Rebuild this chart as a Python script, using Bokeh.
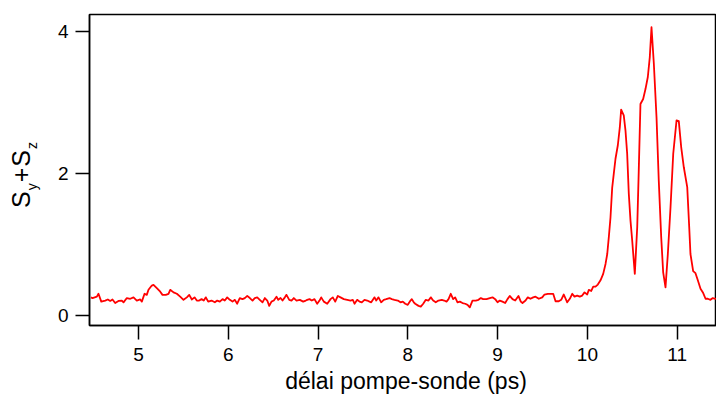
from bokeh.plotting import figure
from bokeh.models import Range1d, FixedTicker, Div
from bokeh.layouts import row, column
from bokeh.embed import file_html
from bokeh.resources import INLINE

# ---- data ----
delay_ps = [
    4.47, 4.488, 4.536, 4.554, 4.585, 4.629, 4.658, 4.685, 4.710, 4.740,
    4.777, 4.814, 4.833, 4.870, 4.908, 4.944, 4.981, 5.019, 5.037, 5.067,
    5.092, 5.111, 5.148, 5.167, 5.204, 5.242, 5.267, 5.304, 5.334, 5.353,
    5.390, 5.427, 5.464, 5.501, 5.538, 5.565, 5.594, 5.624,
    5.649, 5.676, 5.702, 5.727, 5.750, 5.776, 5.813, 5.850, 5.877, 5.906,
    5.936, 5.961, 5.988, 6.017, 6.047, 6.073, 6.099, 6.128, 6.158, 6.184,
    6.211, 6.240, 6.270, 6.295, 6.322, 6.351, 6.381, 6.407, 6.434, 6.456,
    6.481, 6.507, 6.537, 6.556, 6.582, 6.604, 6.630, 6.648, 6.679, 6.704,
    6.730, 6.760, 6.797, 6.834, 6.863,
    6.879, 6.905, 6.930, 6.960, 6.990, 7.016, 7.035, 7.064, 7.102, 7.139,
    7.164, 7.191, 7.220, 7.250, 7.287, 7.325, 7.361, 7.387, 7.406, 7.436,
    7.462, 7.487, 7.517, 7.547, 7.573, 7.592, 7.629, 7.648, 7.673, 7.703,
    7.732, 7.759, 7.796, 7.821, 7.851, 7.888, 7.918, 7.944, 7.971, 7.999,
    8.030, 8.044, 8.066,
    8.082, 8.119, 8.144, 8.171, 8.200, 8.230, 8.256, 8.282, 8.311, 8.341,
    8.378, 8.405, 8.431, 8.453, 8.478, 8.505, 8.527, 8.553, 8.579, 8.609,
    8.639, 8.665, 8.690, 8.720, 8.757, 8.787, 8.813, 8.839, 8.876, 8.913,
    8.943, 8.973, 8.999, 9.024, 9.054, 9.084, 9.110, 9.135, 9.166, 9.196,
    9.232, 9.258, 9.277,
    9.311, 9.336, 9.366, 9.396, 9.422, 9.459, 9.497, 9.522, 9.559, 9.589,
    9.619, 9.645, 9.681, 9.708, 9.737, 9.775, 9.804, 9.831, 9.856, 9.886,
    9.915, 9.942, 9.968, 9.998, 10.016,
    10.043, 10.065, 10.090, 10.116, 10.146, 10.176, 10.202, 10.221, 10.238, 10.257,
    10.276, 10.294, 10.313, 10.339, 10.361, 10.376, 10.405, 10.424, 10.443, 10.461,
    10.480, 10.499, 10.528, 10.555, 10.572, 10.591, 10.621, 10.647, 10.673, 10.695,
    10.714, 10.740, 10.770, 10.795, 10.822, 10.844, 10.870, 10.896, 10.926, 10.956,
    10.993, 11.018, 11.045, 11.074, 11.112, 11.134, 11.148, 11.178, 11.204, 11.230,
    11.260, 11.290, 11.316, 11.341, 11.371, 11.397, 11.427, 11.45,
]
signal = [
    0.26, 0.25, 0.27, 0.31, 0.20, 0.215, 0.23, 0.21, 0.23, 0.18,
    0.21, 0.215, 0.19, 0.25, 0.24, 0.26, 0.215, 0.23, 0.20, 0.31,
    0.295, 0.366, 0.426, 0.436, 0.39, 0.34, 0.295, 0.295, 0.31, 0.366,
    0.33, 0.31, 0.27, 0.225, 0.26, 0.295, 0.23, 0.26,
    0.215, 0.215, 0.235, 0.215, 0.26, 0.20, 0.215, 0.19, 0.215, 0.20,
    0.235, 0.215, 0.26, 0.225, 0.20, 0.225, 0.17, 0.25, 0.235, 0.25,
    0.28, 0.25, 0.215, 0.25, 0.26, 0.225, 0.19, 0.25, 0.215, 0.14,
    0.20, 0.215, 0.27, 0.225, 0.25, 0.215, 0.26, 0.295, 0.225, 0.215,
    0.25, 0.215, 0.225, 0.20, 0.215,
    0.225, 0.235, 0.215, 0.235, 0.17, 0.215, 0.26, 0.20, 0.17, 0.235,
    0.26, 0.20, 0.28, 0.26, 0.235, 0.225, 0.215, 0.225, 0.17, 0.225,
    0.20, 0.19, 0.225, 0.215, 0.20, 0.19, 0.26, 0.215, 0.26, 0.19,
    0.225, 0.235, 0.25, 0.235, 0.225, 0.215, 0.19, 0.20, 0.17, 0.155,
    0.215, 0.235, 0.19,
    0.17, 0.14, 0.13, 0.17, 0.225, 0.215, 0.26, 0.215, 0.19, 0.215,
    0.225, 0.215, 0.20, 0.235, 0.31, 0.235, 0.26, 0.19, 0.20, 0.18,
    0.17, 0.155, 0.12, 0.215, 0.215, 0.225, 0.25, 0.235, 0.235, 0.25,
    0.26, 0.235, 0.19, 0.215, 0.20, 0.18, 0.235, 0.28, 0.235, 0.215,
    0.28, 0.20, 0.18,
    0.215, 0.26, 0.24, 0.26, 0.27, 0.24, 0.26, 0.30, 0.31, 0.31,
    0.31, 0.205, 0.205, 0.225, 0.30, 0.19, 0.24, 0.31, 0.27, 0.285,
    0.27, 0.285, 0.33, 0.30, 0.366,
    0.35, 0.41, 0.41, 0.44, 0.50, 0.59, 0.73, 0.87, 1.10, 1.38,
    1.80, 2.00, 2.21, 2.40, 2.65, 2.90, 2.82, 2.61, 2.28, 1.72,
    1.34, 1.06, 0.59, 1.25, 2.04, 2.98, 3.05, 3.19, 3.36, 3.64,
    4.06, 3.55, 2.79, 1.90, 1.11, 0.61, 0.40, 0.87, 1.53, 2.28,
    2.75, 2.74, 2.37, 2.09, 1.81, 1.25, 0.87, 0.63, 0.60, 0.50,
    0.38, 0.32, 0.24, 0.24, 0.225, 0.25, 0.24, 0.25,
]
x_ticks = [5, 6, 7, 8, 9, 10, 11]
y_ticks = [0, 2, 4]
x_title = "délai pompe-sonde (ps)"
y_title = ("S", "y", "+S", "z")   # S_y + S_z

FONT = "Liberation Sans"
X0, X1 = 4.454, 11.438
Y0, Y1 = -0.136, 4.239
W, H = 716, 394
LW = 44       # strip holding the rotated y title
BH = 24       # strip holding the x title
PH = H - BH   # height of the plot itself

# ---- main plot ----
p = figure(width=W - LW, height=PH, output_backend="svg", toolbar_location=None,
           x_range=Range1d(X0, X1), y_range=Range1d(Y0, Y1),
           min_border_left=89 - LW, min_border_right=0, min_border_top=14,
           min_border_bottom=PH - 325)
p.background_fill_color = "white"
p.border_fill_color = "white"
p.grid.visible = False
p.outline_line_color = "black"
p.outline_line_width = 1.5

for ax in (p.xaxis[0], p.yaxis[0]):
    ax.axis_line_color = "black"
    ax.axis_line_width = 1.5
    ax.major_tick_line_color = "black"
    ax.major_tick_line_width = 1.5
    ax.major_tick_in = 0
    ax.major_tick_out = 14
    ax.minor_tick_line_color = None
    ax.major_label_text_font = FONT
    ax.major_label_text_font_size = "19px"
    ax.major_label_text_color = "black"
    ax.major_label_standoff = 8

p.xaxis.ticker = FixedTicker(ticks=x_ticks)
p.yaxis.ticker = FixedTicker(ticks=y_ticks)
p.yaxis.major_label_standoff = 7

p.line(delay_ps, signal, line_color="#ff0000", line_width=1.8, line_join="round")

# ---- rotated y title (HTML text) ----
sub = "font-size:14px;position:relative;top:6.5px;"
ytxt = (
    f'<div style="position:relative;width:{LW}px;height:{PH}px;overflow:hidden;">'
    '<div style="position:absolute;left:9.3px;top:208px;transform-origin:0 0;'
    'transform:rotate(-90deg);white-space:nowrap;'
    f"font-family:'{FONT}';font-size:25px;line-height:1;letter-spacing:1px;color:#000;\">"
    f'{y_title[0]}<span style="{sub}">{y_title[1]}</span>{y_title[2]}'
    f'<span style="{sub}">{y_title[3]}</span></div></div>'
)
ydiv = Div(text=ytxt, width=LW, height=PH, margin=0)

# ---- x title (HTML text) ----
xtxt = (
    f'<div style="position:relative;width:{W}px;height:{BH}px;">'
    '<div style="position:absolute;left:96px;width:620px;top:0px;height:22px;'
    'text-align:center;white-space:nowrap;'
    f"font-family:'{FONT}';font-size:23px;line-height:22px;color:#000;\">"
    f'{x_title}</div></div>'
)
xdiv = Div(text=xtxt, width=W, height=BH, margin=0)

layout = column(row(ydiv, p, spacing=0), xdiv, spacing=0)
open("out.html", "w").write(file_html(layout, INLINE))
